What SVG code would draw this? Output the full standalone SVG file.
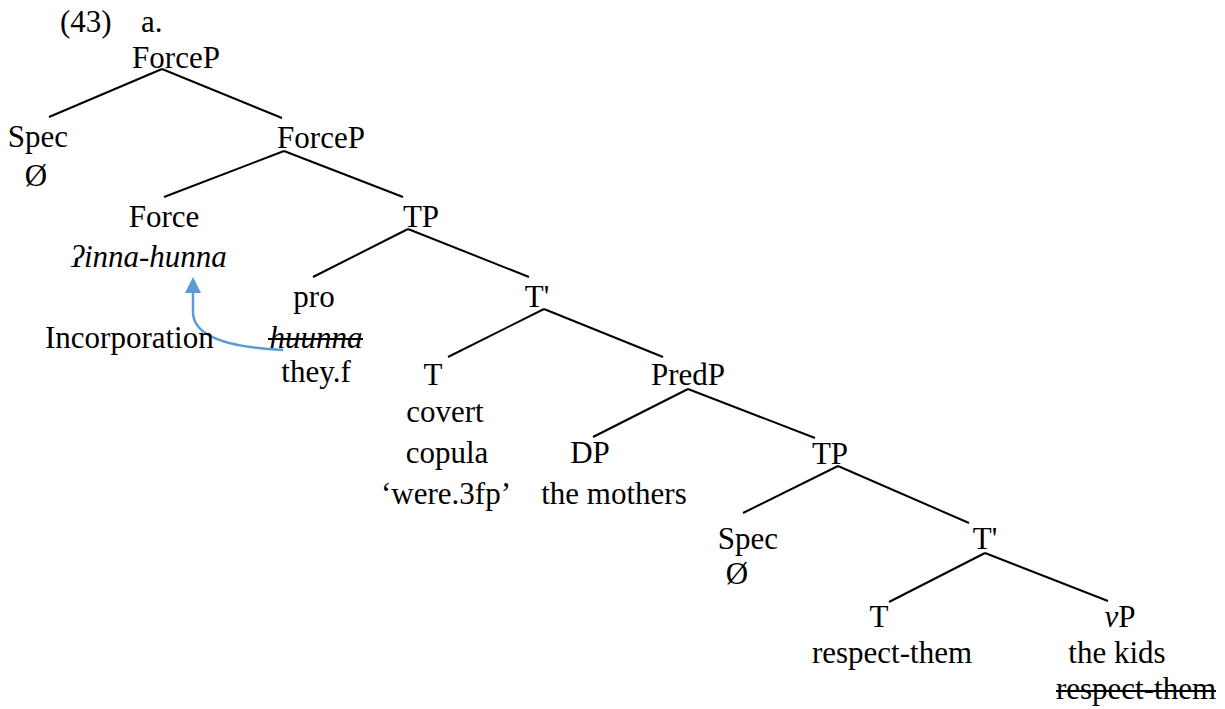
<svg xmlns="http://www.w3.org/2000/svg" width="1225" height="709" viewBox="0 0 1225 709">
<style>
text{font-family:"Liberation Serif","Times New Roman",serif;font-size:31px;fill:#000;text-anchor:middle}
.l{text-anchor:start}
.i{font-style:italic}
#edges line{stroke:#000;stroke-width:2}
.strike{stroke:#000;stroke-width:2}
</style>
<rect width="1225" height="709" fill="#fff"/>
<g id="label"><text class="l" x="60" y="32">(43)</text><text class="l" x="141" y="32">a.</text></g>
<g id="edges">
<line x1="162" y1="69" x2="49" y2="117"/>
<line x1="162" y1="69" x2="282" y2="118"/>
<line x1="284" y1="151" x2="164" y2="197"/>
<line x1="284" y1="151" x2="403" y2="197"/>
<line x1="408" y1="229" x2="313" y2="277"/>
<line x1="408" y1="229" x2="529" y2="277"/>
<line x1="544" y1="309" x2="448" y2="357"/>
<line x1="544" y1="309" x2="663" y2="357"/>
<line x1="688" y1="389" x2="593" y2="437"/>
<line x1="688" y1="389" x2="815" y2="438"/>
<line x1="838" y1="466" x2="743" y2="513"/>
<line x1="838" y1="466" x2="969" y2="523"/>
<line x1="985" y1="553" x2="889" y2="602"/>
<line x1="985" y1="553" x2="1108" y2="601"/>
</g>
<g id="move">
<path d="M283,350 C240,348 193,340 193,312 L193,292" fill="none" stroke="#5B9BD5" stroke-width="2.5"/>
<path d="M193,277 L201,293 L185,293 Z" fill="#5B9BD5"/>
</g>
<g id="n-forcep1"><text x="176" y="68">ForceP</text></g>
<g id="n-spec1"><text x="38" y="147">Spec</text><text x="36" y="186">Ø</text></g>
<g id="n-forcep2"><text x="321" y="148">ForceP</text></g>
<g id="n-force"><text x="164" y="227">Force</text><text class="i" x="149" y="267">ʔinna-hunna</text></g>
<g id="n-tp1"><text x="421" y="227">TP</text></g>
<g id="n-pro"><text x="314" y="307">pro</text><text class="i" x="316" y="348">huunna</text><line class="strike" x1="268" y1="339" x2="363" y2="339"/><text x="316" y="382">they.f</text></g>
<g id="n-incorp"><text class="l" x="45" y="348">Incorporation</text></g>
<g id="n-tbar1"><text x="537" y="307">T'</text></g>
<g id="n-t1"><text x="433" y="385">T</text><text x="445" y="422">covert</text><text x="447" y="463">copula</text><text x="446" y="504">‘were.3fp’</text></g>
<g id="n-predp"><text x="688" y="385">PredP</text></g>
<g id="n-dp"><text x="590" y="463">DP</text><text x="614" y="504">the mothers</text></g>
<g id="n-tp2"><text x="830" y="464">TP</text></g>
<g id="n-spec2"><text x="748" y="549">Spec</text><text x="737" y="584">Ø</text></g>
<g id="n-tbar2"><text x="985" y="549">T'</text></g>
<g id="n-t2"><text x="879" y="627">T</text><text x="892" y="663">respect-them</text></g>
<g id="n-vp"><text x="1120" y="627"><tspan class="i">v</tspan>P</text><text x="1117" y="663">the kids</text><text x="1136" y="699">respect-them</text><line class="strike" x1="1056" y1="691" x2="1216" y2="691"/></g>
</svg>
